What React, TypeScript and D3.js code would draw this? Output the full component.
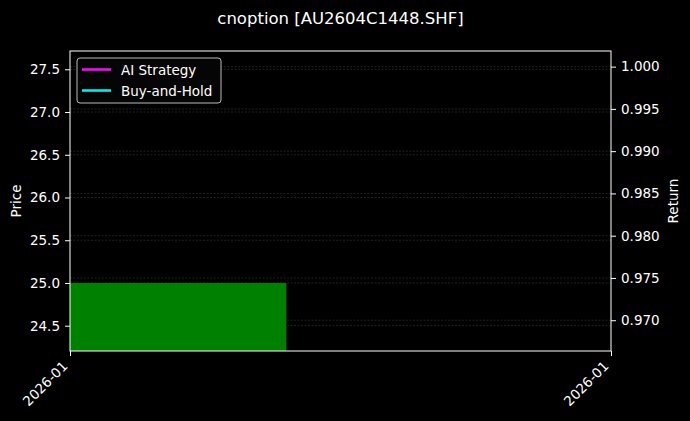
import React, { useEffect, useRef } from 'react';
import * as d3 from 'd3';

// bar (price) data
const barDates = ['2026-01-05', '2026-01-07'];
const barPrice = [25.0];

// return series (single point each, nothing visible)
const returnDates = ['2026-01-05'];
const aiReturn = [1.0];
const bhReturn = [1.0];

const xDomainDates = ['2026-01-05', '2026-01-10'];
const priceTicks = [24.5, 25.0, 25.5, 26.0, 26.5, 27.0, 27.5];
const returnTicks = [0.97, 0.975, 0.98, 0.985, 0.99, 0.995, 1.0];
const legendLabels = ['AI Strategy', 'Buy-and-Hold'];
const legendColors = ['#ee10ee', '#10e8e8'];

const title = 'cnoption [AU2604C1448.SHF]';

export default function App() {
  const svgRef = useRef<SVGSVGElement>(null);
  const width = 690;
  const height = 421;

  useEffect(() => {
    document.body.style.margin = '0';
    document.body.style.background = '#000';

    const svg = d3.select(svgRef.current);
    svg.selectAll('*').remove();

    const margin = { top: 51, right: 79, bottom: 70, left: 70 };
    const innerWidth = width - margin.left - margin.right;
    const innerHeight = height - margin.top - margin.bottom;
    const font = 'DejaVu Sans, sans-serif';
    const fs = 13.5;

    const parse = d3.timeParse('%Y-%m-%d');
    const x = d3.scaleTime()
      .domain(xDomainDates.map(d => parse(d) as Date))
      .range([0, innerWidth]);
    const yPrice = d3.scaleLinear().domain([24.204, 27.714]).range([innerHeight, 0]);
    const yRet = d3.scaleLinear().domain([0.96636, 1.00185]).range([innerHeight, 0]);

    svg.append('rect').attr('width', width).attr('height', height).attr('fill', '#000');

    svg.append('defs').append('clipPath').attr('id', 'plotClip')
      .append('rect').attr('width', innerWidth).attr('height', innerHeight);

    const g = svg.append('g').attr('transform', `translate(${margin.left},${margin.top})`);

    // grids (price and return, both faint dashed)
    g.append('g').selectAll('line').data(priceTicks).join('line')
      .attr('x1', 0).attr('x2', innerWidth)
      .attr('y1', d => yPrice(d)).attr('y2', d => yPrice(d))
      .attr('stroke', '#383838').attr('stroke-width', 0.6).attr('stroke-dasharray', '2,1.5');
    g.append('g').selectAll('line').data(returnTicks).join('line')
      .attr('x1', 0).attr('x2', innerWidth)
      .attr('y1', d => yRet(d)).attr('y2', d => yRet(d))
      .attr('stroke', '#383838').attr('stroke-width', 0.6).attr('stroke-dasharray', '2,1.5');

    // price bar
    const plot = g.append('g').attr('clip-path', 'url(#plotClip)');
    plot.selectAll('rect.bar').data(barPrice).join('rect')
      .attr('class', 'bar')
      .attr('x', x(parse(barDates[0]) as Date))
      .attr('width', x(parse(barDates[1]) as Date) - x(parse(barDates[0]) as Date))
      .attr('y', d => yPrice(d))
      .attr('height', d => innerHeight - yPrice(d) + 2)
      .attr('fill', '#008000');

    // return lines
    const retLine = (vals: number[]) => d3.line<number>()
      .x((_, i) => x(parse(returnDates[i]) as Date))
      .y(d => yRet(d))(vals);
    [aiReturn, bhReturn].forEach((vals, i) => {
      plot.append('path').attr('d', retLine(vals) || '')
        .attr('fill', 'none').attr('stroke', legendColors[i]).attr('stroke-width', 2);
    });

    // axes
    const styleAxis = (sel: d3.Selection<SVGGElement, unknown, null, undefined>) => {
      sel.select('.domain').remove();
      sel.selectAll('line').attr('stroke', '#fff');
      sel.selectAll('text').attr('fill', '#fff').style('font-size', `${fs}px`).style('font-family', font);
    };

    g.append('g')
      .call(d3.axisLeft(yPrice).tickValues(priceTicks).tickFormat(d3.format('.1f')).tickSize(5).tickPadding(5))
      .call(styleAxis);

    g.append('g')
      .attr('transform', `translate(${innerWidth},0)`)
      .call(d3.axisRight(yRet).tickValues(returnTicks).tickFormat(d3.format('.3f')).tickSize(5).tickPadding(5))
      .call(styleAxis);

    const xTicks = xDomainDates.map(d => parse(d) as Date);
    const xAxis = g.append('g')
      .attr('transform', `translate(0,${innerHeight})`)
      .call(d3.axisBottom(x).tickValues(xTicks).tickFormat(d => d3.timeFormat('%Y-%m')(d as Date)).tickSize(5))
      .call(styleAxis);
    xAxis.selectAll('text')
      .attr('text-anchor', 'end')
      .attr('dy', null)
      .attr('y', null)
      .attr('transform', 'translate(-2,16) rotate(-45)');

    // spines
    g.append('rect').attr('width', innerWidth).attr('height', innerHeight)
      .attr('fill', 'none').attr('stroke', '#fff').attr('stroke-width', 1);

    // axis labels
    svg.append('text')
      .attr('transform', `translate(21,${margin.top + innerHeight / 2}) rotate(-90)`)
      .attr('text-anchor', 'middle').attr('fill', '#fff')
      .style('font-size', `${fs}px`).style('font-family', font)
      .text('Price');
    svg.append('text')
      .attr('transform', `translate(678,${margin.top + innerHeight / 2}) rotate(-90)`)
      .attr('text-anchor', 'middle').attr('fill', '#fff')
      .style('font-size', `${fs}px`).style('font-family', font)
      .text('Return');

    // title
    svg.append('text')
      .attr('x', margin.left + innerWidth / 2).attr('y', 24)
      .attr('text-anchor', 'middle').attr('fill', '#fff')
      .style('font-size', '16.5px').style('font-family', font)
      .text(title);

    // legend
    const legend = g.append('g').attr('transform', 'translate(7,7)');
    legend.append('rect')
      .attr('width', 144).attr('height', 45).attr('rx', 3)
      .attr('fill', '#050505').attr('stroke', '#bbb').attr('stroke-width', 1);
    legendLabels.forEach((label, i) => {
      const yy = 11.5 + i * 21;
      legend.append('line')
        .attr('x1', 5).attr('x2', 34).attr('y1', yy).attr('y2', yy)
        .attr('stroke', legendColors[i]).attr('stroke-width', 2.6);
      legend.append('text')
        .attr('x', 44).attr('y', yy + 5)
        .attr('fill', '#fff')
        .style('font-size', `${fs}px`).style('font-family', font)
        .text(label);
    });
  }, []);

  return <svg ref={svgRef} width={width} height={height} style={{ display: 'block' }} />;
}
